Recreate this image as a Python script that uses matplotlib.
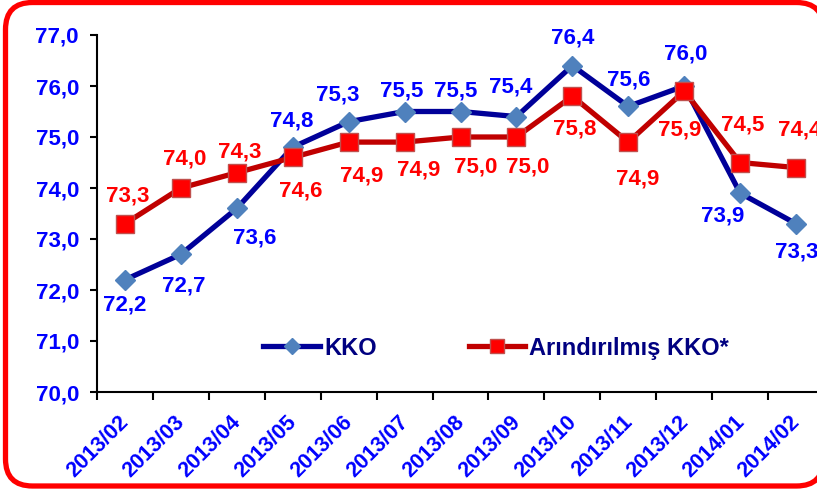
import matplotlib
matplotlib.use("Agg")
import matplotlib.pyplot as plt
from matplotlib.patches import FancyBboxPatch
from matplotlib.transforms import IdentityTransform, ScaledTranslation

plt.rcParams['font.family'] = ['Liberation Sans', 'DejaVu Sans']
plt.rcParams['font.weight'] = 'bold'

months = ['2013/02', '2013/03', '2013/04', '2013/05', '2013/06', '2013/07', '2013/08',
          '2013/09', '2013/10', '2013/11', '2013/12', '2014/01', '2014/02']
kko = [72.2, 72.7, 73.6, 74.8, 75.3, 75.5, 75.5, 75.4, 76.4, 75.6, 76.0, 73.9, 73.3]
kko_adj = [73.3, 74.0, 74.3, 74.6, 74.9, 74.9, 75.0, 75.0, 75.8, 74.9, 75.9, 74.5, 74.4]

# label offsets from their point, in pixels (x right, y down), as placed in the original
kko_off = [(0, 25), (3, 32), (18, 30), (-1, -26), (-11, -27), (-3, -20), (-5, -20),
           (-6, -30), (0, -28), (0, -26), (1, -32), (-17, 23), (1, 28)]
adj_off = [(3, -28), (4, -29), (3, -21), (8, 34), (13, 34), (14, 28), (15, 30),
           (11, 30), (2, 33), (9, 37), (-5, 39), (3, -38), (4, -38)]

blue_txt = '#0000FF'
red_txt = '#FF0000'

W, H = 817, 492
fig = plt.figure(figsize=(W / 100, H / 100), dpi=100)
ax = fig.add_axes([97 / W, 1 - 392 / H, 727 / W, 357 / H])

x = list(range(len(months)))
ax.plot(x, kko, color='#000099', lw=3.8, marker='D', ms=10.5,
        mfc='#4F81BD', mec='#4F81BD', label='KKO', zorder=3)
ax.plot(x, kko_adj, color='#C00000', lw=3.8, marker='s', ms=12.5,
        mfc='#FF0000', mec='#C0504D', mew=1, label='Arındırılmış KKO*', zorder=4)

def fmt(v):
    return f'{v:.1f}'.replace('.', ',')

px = 0.72  # points per pixel at 100 dpi
for i in x:
    dx, dy = kko_off[i]
    ax.annotate(fmt(kko[i]), (i, kko[i]), xytext=(dx * px, -dy * px), textcoords='offset points',
                ha='center', va='center', color=blue_txt, fontsize=16,
                fontweight='bold', annotation_clip=False, zorder=5)
    dx, dy = adj_off[i]
    ax.annotate(fmt(kko_adj[i]), (i, kko_adj[i]), xytext=(dx * px, -dy * px), textcoords='offset points',
                ha='center', va='center', color=red_txt, fontsize=16,
                fontweight='bold', annotation_clip=False, zorder=5)

ax.set_xlim(-0.5, len(months) - 0.5)
ax.set_ylim(70, 77)
ax.set_yticks(range(70, 78))
ax.set_yticklabels([fmt(v) for v in range(70, 78)])
ax.set_xticks(x)
ax.set_xticklabels(months, rotation=45, ha='right', va='top')
ax.set_xticks([i - 0.5 for i in range(len(months) + 1)], minor=True)

ax.tick_params(axis='y', length=5, width=1.5, pad=8, labelsize=16, labelcolor=blue_txt)
ax.tick_params(axis='x', which='major', length=0, pad=14, labelsize=15.5, labelcolor=blue_txt)
ax.tick_params(axis='x', which='minor', length=6, width=1.5)
for lab in ax.get_xticklabels():
    lab.set_transform(lab.get_transform() + ScaledTranslation(6 / 72, 0, fig.dpi_scale_trans))

for s in ['top', 'right']:
    ax.spines[s].set_visible(False)
for s in ['left', 'bottom']:
    ax.spines[s].set_linewidth(1.5)
    ax.spines[s].set_color('black')

leg = ax.legend(loc='center', bbox_to_anchor=(0.549, 0.123), ncol=2, frameon=False,
                fontsize=17, handlelength=2.4, columnspacing=3.9, handletextpad=0.17,
                markerscale=0.75)
for t in leg.get_texts():
    t.set_color('#000080')
    t.set_fontweight('bold')

# rounded red frame in pixels, right side runs off the picture.
# white face (drawn behind the axes) so agg does not clip the outline at the canvas edge
frame = FancyBboxPatch((5.5, 6), 818, 483.5, boxstyle='round,pad=0,rounding_size=27',
                       transform=IdentityTransform(), facecolor='white',
                       edgecolor='#FF0000', lw=3.8, zorder=-1)
fig.add_artist(frame)

fig.savefig('out.png', dpi=100)
